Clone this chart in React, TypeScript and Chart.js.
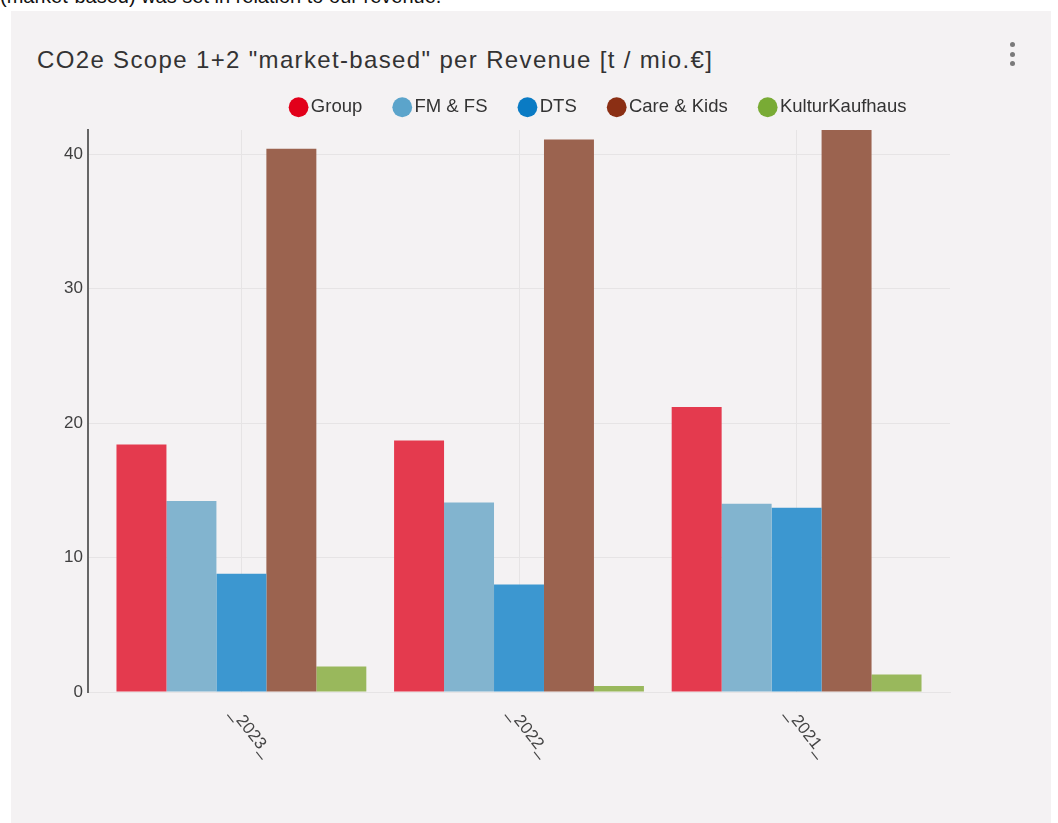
import React, { useEffect, useRef } from 'react';
import { Chart, registerables } from 'chart.js';

Chart.register(...registerables);

// ---- data ----
const categories = ['_2023_', '_2022_', '_2021_'];
const seriesNames = ['Group', 'FM & FS', 'DTS', 'Care & Kids', 'KulturKaufhaus'];
const groupValues = [18.4, 18.7, 21.2];
const fmFsValues = [14.2, 14.1, 14.0];
const dtsValues = [8.8, 8.0, 13.7];
const careKidsValues = [40.4, 41.1, 41.8];
const kulturValues = [1.9, 0.45, 1.3];
const yTickValues = [0, 10, 20, 30, 40];

const seriesValues = [groupValues, fmFsValues, dtsValues, careKidsValues, kulturValues];
const barColors = ['#e43a4e', '#82b4cf', '#3c97d0', '#9b634f', '#99b85c'];
const legendColors = ['#e2001a', '#5ba4cb', '#0a7bc4', '#8b2f14', '#79ab35'];

const FONT = '"Liberation Sans", Arial, Helvetica, sans-serif';

// ---- layout constants ----
const LEGEND_HEIGHT = 68;
const LEGEND_CENTER = 590; // canvas coords
const X_INSET = 14.6;
const LABEL_DX = -8;
const LABEL_DY = 18;
const LABEL_ANGLE = (52 * Math.PI) / 180;

const layoutTweaks = {
  id: 'layoutTweaks',
  beforeLayout(chart: any) {
    const lg = chart.legend;
    if (lg && !lg._patchedFit) {
      const orig = lg.fit;
      lg.fit = function () {
        orig.call(this);
        this.height = LEGEND_HEIGHT;
      };
      lg._patchedFit = true;
    }
  },
  afterLayout(chart: any) {
    const lg = chart.legend;
    if (lg) {
      const w = lg.right - lg.left;
      lg.left = LEGEND_CENTER - w / 2;
      lg.right = LEGEND_CENTER + w / 2;
      lg.top -= 1;
    }
    const xs = chart.scales.x;
    xs._startPixel = xs.left + X_INSET;
    xs._endPixel = xs.right - X_INSET;
    xs._length = xs._endPixel - xs._startPixel;
  },
  afterDraw(chart: any) {
    const xs = chart.scales.x;
    const ctx = chart.ctx;
    ctx.save();
    ctx.font = `17px ${FONT}`;
    ctx.fillStyle = '#444';
    ctx.textAlign = 'left';
    ctx.textBaseline = 'middle';
    xs.ticks.forEach((t: any, i: number) => {
      const x = xs.getPixelForTick(i);
      ctx.save();
      ctx.translate(x + LABEL_DX, xs.top + LABEL_DY);
      ctx.rotate(LABEL_ANGLE);
      ctx.fillText(String(xs.getLabelForValue(t.value)), 0, 0);
      ctx.restore();
    });
    ctx.restore();
  },
};

export default function App() {
  const ref = useRef<HTMLCanvasElement>(null);

  useEffect(() => {
    if (!ref.current) return;
    const yMax = Math.max(...seriesValues.flat());
    const chart = new Chart(ref.current, {
      type: 'bar',
      data: {
        labels: categories,
        datasets: seriesNames.map((name, i) => ({
          label: name,
          data: seriesValues[i],
          backgroundColor: barColors[i],
          borderWidth: 0,
          categoryPercentage: 0.9,
          barPercentage: 1.0,
        })),
      },
      options: {
        responsive: false,
        animation: false,
        events: [],
        devicePixelRatio: 1,
        layout: { padding: { left: 0, right: 101, top: 0, bottom: 0 } },
        plugins: {
          title: { display: false },
          tooltip: { enabled: false },
          legend: {
            display: true,
            position: 'top',
            align: 'center',
            labels: {
              usePointStyle: true,
              boxWidth: 6,
              boxHeight: 14,
              padding: 37,
              color: '#333',
              font: { size: 18.5, family: FONT },
              generateLabels: (c: any) =>
                c.data.datasets.map((ds: any, i: number) => ({
                  text: ds.label,
                  fillStyle: legendColors[i],
                  strokeStyle: legendColors[i],
                  lineWidth: 0,
                  pointStyle: 'circle',
                  hidden: false,
                  datasetIndex: i,
                  fontColor: '#333',
                })),
            },
          },
        },
        scales: {
          x: {
            type: 'category',
            offset: true,
            grid: { display: true, offset: false, color: '#e6e4e5', lineWidth: 1, drawTicks: false },
            border: { display: true, color: '#e6e4e5', width: 1 },
            ticks: { display: false },
            afterFit: (s: any) => {
              s.height = 130;
            },
          },
          y: {
            type: 'linear',
            min: 0,
            max: yMax,
            grid: { color: '#e6e4e5', lineWidth: 1, drawTicks: false },
            border: { display: true, color: '#666', width: 2 },
            ticks: {
              padding: 5,
              color: '#3f3f3f',
              font: { size: 17, family: FONT },
            },
            afterBuildTicks: (s: any) => {
              s.ticks = yTickValues.map((v) => ({ value: v }));
            },
            afterFit: (s: any) => {
              s.width = 77;
            },
          },
        },
      },
      plugins: [layoutTweaks],
    } as any);
    return () => chart.destroy();
  }, []);

  const dot = (top: number) => (
    <div
      style={{
        position: 'absolute',
        left: 1009.5,
        top,
        width: 5,
        height: 5,
        borderRadius: '50%',
        background: '#7a7a7a',
      }}
    />
  );

  return (
    <div
      style={{
        position: 'absolute',
        left: 0,
        top: 0,
        width: 1058,
        height: 823,
        background: '#ffffff',
        overflow: 'hidden',
        fontFamily: FONT,
      }}
    >
      <div
        style={{
          position: 'absolute',
          left: 0,
          top: -14,
          fontSize: 20,
          lineHeight: '20px',
          color: '#111',
          whiteSpace: 'nowrap',
        }}
      >
        (market-based) was set in relation to our revenue.
      </div>
      <div
        style={{
          position: 'absolute',
          left: 11,
          top: 11,
          width: 1040,
          height: 812,
          background: '#f4f2f3',
        }}
      />
      <div
        style={{
          position: 'absolute',
          left: 37,
          top: 48,
          fontSize: 24,
          lineHeight: '24px',
          letterSpacing: '1.35px',
          color: '#333',
          whiteSpace: 'nowrap',
        }}
      >
        CO2e Scope 1+2 "market-based" per Revenue [t / mio.€]
      </div>
      {dot(41.5)}
      {dot(51.5)}
      {dot(61)}
      <canvas
        ref={ref}
        width={1040}
        height={760}
        style={{ position: 'absolute', left: 11, top: 62, width: 1040, height: 760 }}
      />
    </div>
  );
}
